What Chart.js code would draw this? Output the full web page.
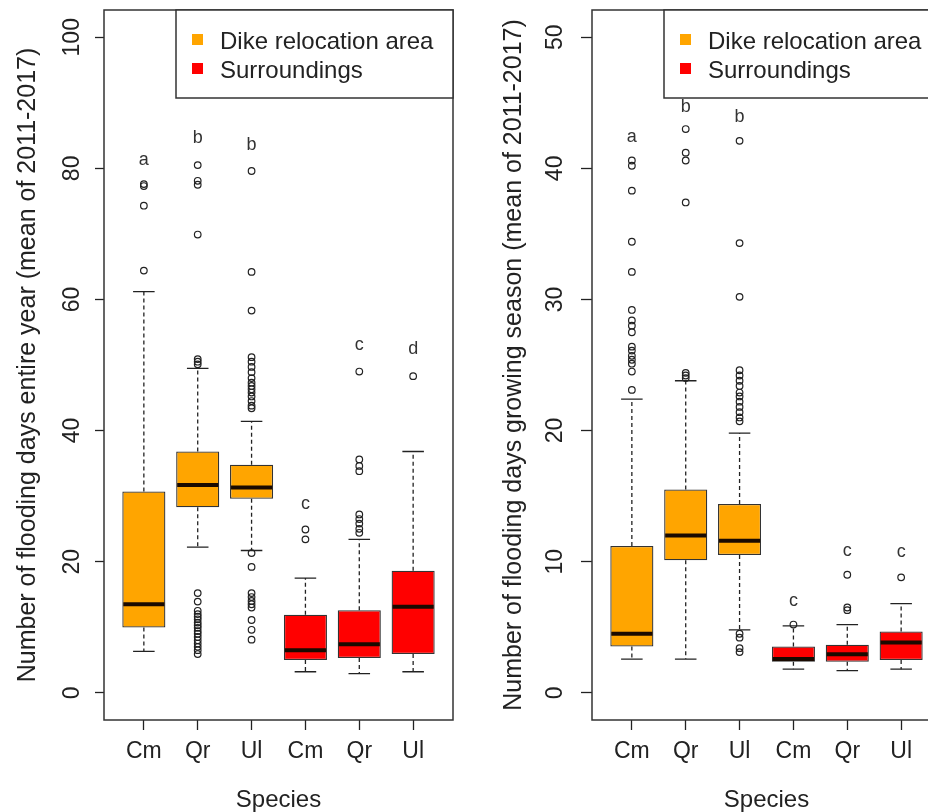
<!DOCTYPE html>
<html>
<head>
<meta charset="utf-8">
<script src="https://cdn.jsdelivr.net/npm/chart.js@4.4.1/dist/chart.umd.min.js"></script>
<style>
  html, body { margin: 0; padding: 0; background: #fff; overflow: hidden; }
  #wrap { position: relative; width: 928px; height: 812px; overflow: hidden; }
  #yearChart { position: absolute; left: 0; top: 0; }
  #seasonChart { position: absolute; left: 464px; top: 0; }
</style>
</head>
<body>
<div id="wrap">
  <canvas id="yearChart" width="464" height="812"></canvas>
  <canvas id="seasonChart" width="490" height="812"></canvas>
</div>
<script>
const species = ['Cm', 'Qr', 'Ul', 'Cm', 'Qr', 'Ul'];
const groups = ['Dike relocation area', 'Surroundings'];
const groupColors = ['#FFA500', '#FF0000'];
const groupOf = [0, 0, 0, 1, 1, 1];
const xLabel = 'Species';

// entire year
const yearTitle = 'Number of flooding days entire year (mean of 2011-2017)';
const yearTicks = [0, 20, 40, 60, 80, 100];
const yearLow = [6.3, 22.2, 21.7, 3.2, 2.9, 3.2];
const yearQ1 = [9.95, 28.3, 29.6, 5.0, 5.3, 5.9];
const yearMed = [13.5, 31.7, 31.3, 6.5, 7.4, 13.1];
const yearQ3 = [30.7, 36.8, 34.8, 11.9, 12.6, 18.6];
const yearHigh = [61.2, 49.5, 41.4, 17.5, 23.4, 36.8];
const yearOut = [
  [64.4, 74.3, 77.3, 77.6],
  [80.5, 78.1, 77.5, 69.9, 50.9, 50.5, 50.1, 15.2, 13.9, 12.5, 12.0, 11.6, 11.2, 10.7, 10.3, 9.9, 9.4, 9.0, 8.5, 8.0, 7.5, 7.0, 6.5, 5.9],
  [79.6, 64.2, 58.3, 51.2, 50.5, 49.7, 48.9, 48.0, 47.3, 46.8, 46.3, 45.8, 45.2, 44.5, 43.8, 43.4, 21.3, 19.2, 15.2, 14.6, 14.0, 13.5, 13.0, 11.1, 9.6, 8.1],
  [24.9, 23.4],
  [49.0, 35.6, 34.6, 33.8, 27.2, 26.5, 25.8, 25.0, 24.4],
  [48.3]
];
const yearLetters = ['a', 'b', 'b', 'c', 'c', 'd'];
const yearLetterY = [81.2, 84.7, 83.6, 28.8, 53.0, 52.5];

// growing season
const seasonTitle = 'Number of flooding days growing season (mean of 2011-2017)';
const seasonTicks = [0, 10, 20, 30, 40, 50];
const seasonLow = [2.57, 2.57, 4.8, 1.8, 1.68, 1.8];
const seasonQ1 = [3.53, 10.1, 10.5, 2.36, 2.36, 2.5];
const seasonMed = [4.5, 12.0, 11.6, 2.57, 2.94, 3.83];
const seasonQ3 = [11.2, 15.5, 14.4, 3.53, 3.66, 4.67];
const seasonHigh = [22.4, 23.8, 19.8, 5.1, 5.2, 6.8];
const seasonOut = [
  [40.6, 40.2, 38.3, 34.4, 32.1, 29.2, 28.4, 28.0, 27.5, 26.4, 26.1, 25.7, 25.4, 25.1, 24.5, 23.1],
  [43.0, 41.2, 40.6, 37.4, 24.4, 24.2, 24.0],
  [42.1, 34.3, 30.2, 24.6, 24.2, 23.8, 23.4, 22.9, 22.6, 22.2, 21.8, 21.4, 21.0, 20.7, 4.5, 4.2, 3.4, 3.1],
  [5.2],
  [9.0, 6.5, 6.3],
  [8.8]
];
const seasonLetters = ['a', 'b', 'b', 'c', 'c', 'c'];
const seasonLetterY = [42.4, 44.7, 43.9, 7.0, 10.8, 10.7];

const INK = '#222';
const FONT = "'Liberation Sans', Arial, Helvetica, sans-serif";
Chart.defaults.font.family = FONT;
Chart.defaults.color = INK;

// whiskers, staples, medians, letters, frame, rotated y labels and legend
const boxExtras = {
    id: 'boxExtras',
    afterDatasetsDraw(chart) {
        const cfg = chart.options.plugins.boxExtras;
        const { ctx, scales: { x, y } } = chart;
        const bars = chart.getDatasetMeta(0).data.concat(chart.getDatasetMeta(1).data);
        ctx.save();
        ctx.strokeStyle = INK;
        species.forEach((s, i) => {
            const px = x.getPixelForValue(i + 1);
            const w = bars[i].width;
            ctx.lineWidth = 1.3;
            ctx.setLineDash([4, 3]);
            ctx.beginPath();
            ctx.moveTo(px, y.getPixelForValue(cfg.q3[i]));
            ctx.lineTo(px, y.getPixelForValue(cfg.high[i]));
            ctx.moveTo(px, y.getPixelForValue(cfg.q1[i]));
            ctx.lineTo(px, y.getPixelForValue(cfg.low[i]));
            ctx.stroke();
            ctx.setLineDash([]);
            ctx.beginPath();
            [cfg.high[i], cfg.low[i]].forEach(v => {
                const py = y.getPixelForValue(v);
                ctx.moveTo(px - w / 4, py);
                ctx.lineTo(px + w / 4, py);
            });
            ctx.stroke();
            ctx.lineWidth = 4;
            ctx.strokeStyle = '#1a0a00';
            ctx.beginPath();
            const pm = y.getPixelForValue(cfg.med[i]);
            ctx.moveTo(px - w / 2 + 1, pm);
            ctx.lineTo(px + w / 2 - 1, pm);
            ctx.stroke();
            ctx.strokeStyle = INK;
        });
        ctx.fillStyle = '#333';
        ctx.font = '18px ' + FONT;
        ctx.textAlign = 'center';
        ctx.textBaseline = 'middle';
        cfg.letters.forEach((l, i) => {
            ctx.fillText(l, x.getPixelForValue(i + 1), y.getPixelForValue(cfg.letterY[i]));
        });
        ctx.restore();
    },
    afterDraw(chart) {
        const cfg = chart.options.plugins.boxExtras;
        const { ctx, chartArea: a, scales: { y } } = chart;
        ctx.save();
        // frame
        ctx.strokeStyle = '#333';
        ctx.lineWidth = 1.5;
        ctx.strokeRect(a.left, a.top, a.right - a.left, a.bottom - a.top);
        // y tick labels, rotated like R
        ctx.fillStyle = INK;
        ctx.font = '23px ' + FONT;
        ctx.textAlign = 'center';
        ctx.textBaseline = 'middle';
        cfg.ticks.forEach(v => {
            ctx.save();
            ctx.translate(a.left - cfg.tickGap, y.getPixelForValue(v));
            ctx.rotate(-Math.PI / 2);
            ctx.fillText(String(v), 0, 0);
            ctx.restore();
        });
        // legend box, top right inside the plot
        const lx = a.right - 277, ly = a.top, lh = 88;
        ctx.fillStyle = '#fff';
        ctx.fillRect(lx, ly, a.right - lx, lh);
        ctx.strokeStyle = '#333';
        ctx.lineWidth = 1.5;
        ctx.strokeRect(lx, ly, a.right - lx, lh);
        ctx.font = '24px ' + FONT;
        ctx.textAlign = 'left';
        groups.forEach((g, gi) => {
            const cy = ly + 30 + gi * 29;
            ctx.fillStyle = groupColors[gi];
            ctx.fillRect(lx + 16, cy - 6, 11, 11);
            ctx.fillStyle = INK;
            ctx.fillText(g, lx + 44, cy + 2);
        });
        ctx.restore();
    }
};

function boxChart(canvasId, cfg) {
    const boxSets = groups.map((g, gi) => ({
        type: 'bar',
        label: g,
        data: species.map((s, i) => ({ x: i + 1, y: [cfg.q1[i], cfg.q3[i]] })).filter((d, i) => groupOf[i] === gi),
        backgroundColor: groupColors[gi],
        borderColor: '#333',
        borderWidth: 1.3,
        borderSkipped: false,
        grouped: false,
        barPercentage: 0.8,
        categoryPercentage: 1,
        order: 2
    }));
    const outSet = {
        type: 'scatter',
        label: 'outliers',
        data: cfg.outliers.flatMap((arr, i) => arr.map(v => ({ x: i + 1, y: v }))),
        pointRadius: 3.3,
        pointBorderWidth: 1.2,
        pointBackgroundColor: 'rgba(0,0,0,0)',
        pointBorderColor: INK,
        order: 1
    };

    new Chart(document.getElementById(canvasId), {
        type: 'bar',
        data: { datasets: [...boxSets, outSet] },
        plugins: [boxExtras],
        options: {
            responsive: false,
            animation: false,
            layout: { padding: { top: 10, right: cfg.padRight, bottom: 0, left: 0 } },
            plugins: {
                legend: { display: false },
                tooltip: { enabled: false },
                boxExtras: cfg
            },
            scales: {
                x: {
                    type: 'linear',
                    offset: false,
                    min: 0.26,
                    max: 6.74,
                    afterBuildTicks: s => { s.ticks = species.map((_, i) => ({ value: i + 1 })); },
                    afterFit: s => { s.height = 92; },
                    grid: { offset: false, drawOnChartArea: false, drawTicks: true, tickLength: 10, tickColor: INK, tickWidth: 1.3 },
                    border: { display: false },
                    ticks: {
                        callback: v => species[v - 1],
                        font: { size: 23, lineHeight: 1.2 },
                        color: INK,
                        padding: 8,
                        maxRotation: 0,
                        autoSkip: false
                    },
                    title: { display: true, text: xLabel, font: { size: 24, lineHeight: 1 }, color: INK, padding: 0 }
                },
                y: {
                    min: cfg.yMin,
                    max: cfg.yMax,
                    afterBuildTicks: s => { s.ticks = cfg.ticks.map(v => ({ value: v })); },
                    afterFit: s => { s.width = cfg.axisWidth; },
                    grid: { drawOnChartArea: false, drawTicks: true, tickLength: cfg.tickLen, tickColor: INK, tickWidth: 1.3 },
                    border: { display: false },
                    ticks: { display: false },
                    title: {
                        display: true,
                        text: cfg.title,
                        font: { size: 25, lineHeight: 1.2 },
                        color: INK,
                        padding: { top: cfg.titlePad, bottom: 0 }
                    }
                }
            }
        }
    });
}

boxChart('yearChart', {
    title: yearTitle, ticks: yearTicks, yMin: -4.16, yMax: 104.16,
    low: yearLow, q1: yearQ1, med: yearMed, q3: yearQ3, high: yearHigh,
    outliers: yearOut, letters: yearLetters, letterY: yearLetterY,
    axisWidth: 104, padRight: 11, tickLen: 9, tickGap: 31, titlePad: 13
});

boxChart('seasonChart', {
    title: seasonTitle, ticks: seasonTicks, yMin: -2.08, yMax: 52.08,
    low: seasonLow, q1: seasonQ1, med: seasonMed, q3: seasonQ3, high: seasonHigh,
    outliers: seasonOut, letters: seasonLetters, letterY: seasonLetterY,
    axisWidth: 128, padRight: 13, tickLen: 11, tickGap: 36, titlePad: 35
});
</script>
</body>
</html>
